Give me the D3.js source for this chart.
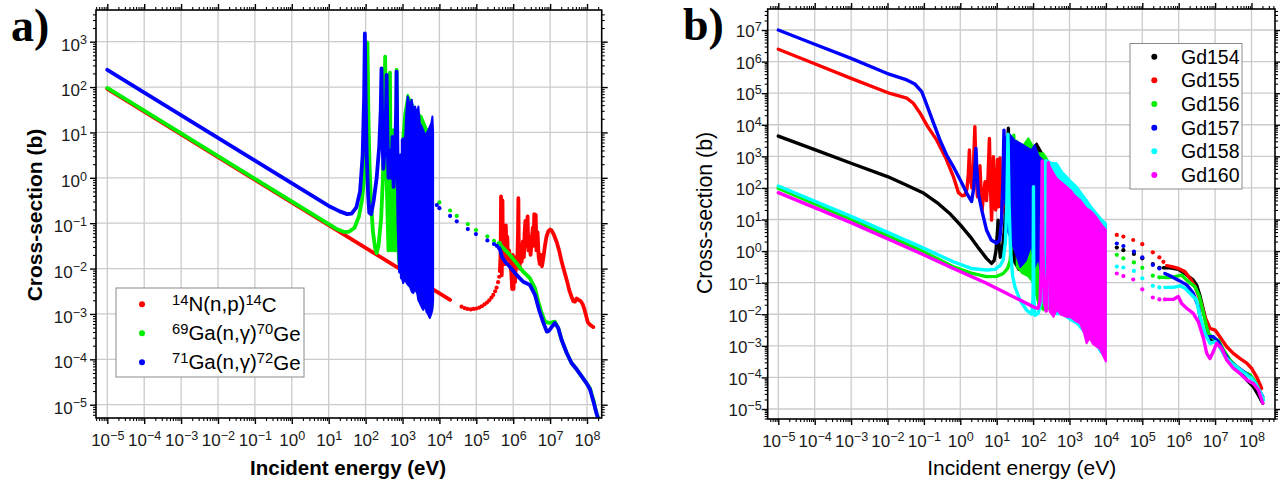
<!DOCTYPE html>
<html>
<head>
<meta charset="utf-8">
<script src="https://cdn.jsdelivr.net/npm/d3@7"></script>
<style>
  body { margin: 0; background: #fff; }
</style>
</head>
<body>
<svg id="chart" width="1280" height="489"></svg>
<script>
// All points are [log10(E / eV), log10(sigma / b)].
// Bands are [log10 E, log10 sigma top, log10 sigma bottom] for unresolved resonances.

// ---------- panel a ----------
const n14Thermal = [[-5, 1.96], [4.29, -2.69]];
const n14Dots = [[4.60,-2.84],[4.68,-2.87],[4.76,-2.89],[4.85,-2.9],[4.93,-2.89],[5.0,-2.88],[5.08,-2.86],
  [5.15,-2.83],[5.22,-2.79],[5.29,-2.75],[5.35,-2.7],[5.41,-2.64],[5.46,-2.58],[5.51,-2.5],[5.55,-2.42],
  [5.59,-2.3],[5.62,-2.18],[5.64,-2.05]];
const n14Fast = [[5.64,-2.05],[5.66,-1.6],[5.67,-0.41],[5.68,-1.0],[5.69,-2.15],[5.71,-0.5],[5.72,-1.9],
  [5.75,-1.6],[5.78,-1.9],[5.8,-1.05],[5.82,-1.7],[5.84,-1.3],[5.86,-1.8],[5.89,-1.6],[5.92,-1.9],[5.95,-2.1],
  [5.97,-2.45],[5.99,-1.7],[6.01,-2.45],[6.03,-1.8],[6.05,-2.3],[6.08,-1.75],[6.11,-1.9],[6.13,-1.2],
  [6.14,-0.45],[6.15,-1.4],[6.17,-2.0],[6.2,-1.6],[6.23,-1.85],[6.26,-1.4],[6.29,-1.75],[6.31,-1.2],
  [6.33,-0.95],[6.35,-1.5],[6.37,-1.1],[6.39,-0.85],[6.41,-1.6],[6.44,-1.3],[6.47,-1.7],[6.5,-1.4],
  [6.53,-1.1],[6.55,-1.5],[6.57,-0.8],[6.59,-1.3],[6.61,-0.82],[6.63,-1.6],[6.66,-1.2],[6.69,-1.75],
  [6.72,-1.9],[6.75,-1.7],[6.78,-1.95],[6.82,-1.75],[6.86,-1.5],[6.9,-1.3],[6.95,-1.18],[7.0,-1.14],
  [7.04,-1.16],[7.1,-1.25],[7.18,-1.42],[7.25,-1.62],[7.31,-1.84],[7.38,-2.05],[7.45,-2.25],[7.52,-2.48],
  [7.58,-2.62],[7.63,-2.72],[7.67,-2.73],[7.72,-2.66],[7.77,-2.69],[7.83,-2.72],[7.88,-2.78],[7.93,-2.9],
  [7.97,-3.02],[8.02,-3.18],[8.07,-3.23],[8.12,-3.26],[8.17,-3.29]];

const ga69Low = [[-5,1.98],[1.2,-1.12],[1.4,-1.19],[1.55,-1.19],[1.7,-1.1],[1.82,-0.85],[1.9,-0.5],
  [1.96,0.0],[2.0,0.6],[2.03,1.6],[2.05,2.98],[2.06,2.4],[2.08,1.2],[2.11,0.2],[2.15,-0.6],[2.2,-1.2],
  [2.26,-1.55],[2.3,-1.66],[2.35,-1.5],[2.42,-0.9],[2.47,0.0],[2.5,1.2],[2.53,2.67],[2.55,1.3],[2.57,0.0],
  [2.6,-1.0],[2.62,-1.6],[2.64,-0.3],[2.66,2.32],[2.68,-0.5],[2.71,-1.6],[2.73,0.3],[2.75,1.05],[2.77,-0.8],
  [2.8,-1.6],[2.83,0.5],[2.84,2.38],[2.86,0.0],[2.9,-1.8],[2.95,-2.03],[2.98,-1.0],[3.0,-2.05]];
const ga69Band = [[3.0,0.9,-2.1],[3.05,1.4,-2.2],[3.14,1.83,-2.25],[3.23,1.68,-2.35],[3.35,1.5,-2.45],
  [3.45,1.4,-2.6],[3.52,1.35,-2.7],[3.65,1.09,-2.85],[3.75,1.0,-2.95],[3.82,0.9,-2.85]];
const ga69Dots = [[4.0,-0.54],[4.29,-0.72],[4.47,-0.84],[4.77,-1.02],[4.99,-1.15],[5.3,-1.29],
  [5.48,-1.39],[5.64,-1.44]];
const ga69Fast = [[5.6,-1.44],[5.73,-1.55],[5.91,-1.7],[6.09,-1.88],[6.27,-2.07],[6.45,-2.21],[6.59,-2.43],
  [6.68,-2.73],[6.77,-2.98],[6.86,-3.17],[6.98,-3.2],[7.13,-3.17],[7.22,-3.31],[7.31,-3.57],[7.45,-3.86],
  [7.58,-4.08],[7.72,-4.22],[7.86,-4.38],[7.99,-4.53],[8.08,-4.64],[8.17,-4.89],[8.26,-5.19],[8.33,-5.35]];

const ga71Low = [[-5,2.38],[1.0,-0.62],[1.3,-0.74],[1.5,-0.8],[1.62,-0.79],[1.75,-0.65],[1.85,-0.3],
  [1.92,0.5],[1.96,1.8],[1.98,3.18],[2.0,1.8],[2.03,0.5],[2.07,-0.4],[2.1,-0.77],[2.15,-0.8],[2.22,-0.5],
  [2.3,0.0],[2.37,0.7],[2.41,1.5],[2.43,2.41],[2.45,1.2],[2.48,0.2],[2.52,0.7],[2.55,1.4],[2.57,2.27],
  [2.59,1.0],[2.62,0.0],[2.66,0.6],[2.7,0.0],[2.73,0.9],[2.76,-0.2],[2.8,0.5],[2.83,1.6],[2.84,2.34],
  [2.86,0.8],[2.89,-1.0],[2.93,-2.07],[2.96,0.5],[2.98,-2.2]];
const ga71Band = [[2.98,0.84,-2.2],[3.02,0.87,-2.32],[3.07,0.87,-2.2],[3.1,1.4,-2.3],[3.14,1.79,-2.35],
  [3.2,1.6,-2.4],[3.25,1.72,-2.51],[3.29,1.5,-2.54],[3.34,1.57,-2.45],[3.4,1.4,-2.55],[3.43,1.57,-2.7],
  [3.47,1.2,-2.76],[3.52,1.13,-2.85],[3.56,1.05,-2.91],[3.6,0.95,-2.8],[3.65,0.98,-2.95],[3.7,1.05,-3.02],
  [3.74,1.13,-3.09],[3.78,1.2,-3.0],[3.81,1.35,-2.9],[3.83,1.0,-2.7]];
const ga71Dots = [[3.93,-0.6],[4.0,-0.67],[4.29,-0.84],[4.47,-0.96],[4.77,-1.13],[4.99,-1.24],[5.3,-1.38],
  [5.48,-1.46],[5.56,-1.5],[5.62,-1.55]];
const ga71Fast = [[5.65,-1.6],[5.7,-1.75],[5.78,-1.85],[5.91,-1.96],[6.09,-2.14],[6.27,-2.29],[6.45,-2.36],
  [6.59,-2.58],[6.7,-2.91],[6.82,-3.2],[6.91,-3.39],[6.97,-3.37],[7.04,-3.29],[7.13,-3.2],[7.22,-3.31],
  [7.31,-3.57],[7.45,-3.86],[7.58,-4.08],[7.72,-4.22],[7.86,-4.38],[7.99,-4.53],[8.08,-4.66],[8.17,-4.92],
  [8.26,-5.2],[8.36,-5.45]];

const legendA = [["14", "N(n,p)", "14", "C"], ["69", "Ga(n,\u03b3)", "70", "Ge"], ["71", "Ga(n,\u03b3)", "72", "Ge"]];
const colorsA = ["#ff0000", "#00ee00", "#0000ff"];

// ---------- panel b ----------
const gd154Low = [[-5,3.64],[-4,3.21],[-3,2.78],[-2,2.36],[-1.5,2.1],[-1,1.83],[-0.6,1.5],[-0.3,1.2],
  [0,0.83],[0.27,0.46],[0.5,0.1],[0.72,-0.23],[0.86,-0.39],[0.93,-0.3],[0.98,0.0],[1.02,0.6],[1.04,0.98],
  [1.06,0.3],[1.1,-0.2],[1.15,0.0],[1.22,0.8],[1.28,2.2],[1.32,3.89],[1.35,2.0],[1.4,0.4],[1.45,0.0]];
const gd154Band = [[1.45,3.2,-0.3],[1.6,3.4,-0.6],[1.75,3.3,-0.5],[1.9,3.36,-0.7],[2.0,3.3,-0.6],
  [2.1,3.41,-0.8],[2.2,3.2,-1.0],[2.35,2.9,-1.2],[2.5,2.7,-1.35],[2.7,2.5,-1.6],[2.9,2.3,-1.9],
  [3.1,2.1,-2.2],[3.3,1.8,-2.3],[3.5,1.5,-2.5],[3.7,1.2,-2.7],[3.85,1.0,-2.8],[4.0,0.8,-2.9]];
const gd154Dots = [[4.3,0.11],[4.48,0.03],[4.77,-0.09],[5.0,-0.23],[5.29,-0.41],[5.47,-0.53]];
const gd154Fast = [[5.58,-0.53],[5.76,-0.53],[5.99,-0.58],[6.17,-0.71],[6.4,-0.92],[6.49,-1.07],[6.59,-1.44],
  [6.7,-1.97],[6.81,-2.6],[6.91,-2.87],[7.04,-2.82],[7.18,-3.13],[7.32,-3.4],[7.5,-3.61],[7.68,-3.82],
  [7.87,-4.08],[8.05,-4.29],[8.19,-4.56],[8.31,-4.82]];

const gd155Low = [[-5,6.39],[-4,5.93],[-3,5.47],[-1.93,4.99],[-1.47,4.84],[-1.29,4.68],[-1.1,4.36],
  [-0.9,3.95],[-0.65,3.52],[-0.4,2.95],[-0.19,2.36],[-0.05,1.85],[0.05,1.75],[0.12,1.77],[0.18,1.95],
  [0.22,2.4],[0.25,3.2],[0.28,2.3],[0.32,2.0],[0.36,2.6],[0.4,3.94],[0.43,2.6],[0.47,1.72],[0.51,2.0],
  [0.54,2.7],[0.57,1.9],[0.6,1.3],[0.64,1.8],[0.68,2.2],[0.72,1.6],[0.76,2.3],[0.8,3.57],[0.83,2.0],
  [0.86,0.98],[0.89,2.0],[0.91,2.99],[0.94,1.5],[0.97,1.3],[1.0,2.2],[1.02,2.9],[1.05,1.4],[1.07,1.6],
  [1.09,2.95],[1.12,1.5],[1.16,1.2],[1.2,2.2],[1.23,2.88],[1.27,1.4],[1.3,1.0]];
const gd155Band = [[1.3,2.9,0.9],[1.5,3.2,0.5],[1.7,3.2,0.2],[2.0,3.0,-0.3],[2.3,2.6,-0.8],[2.6,2.3,-1.2],
  [3.0,1.9,-1.6],[3.4,1.4,-2.0],[3.7,1.0,-2.3],[4.0,0.7,-2.5]];
const gd155Dots = [[4.3,0.51],[4.48,0.46],[4.75,0.35],[5.0,0.22],[5.29,-0.04],[5.47,-0.2],[5.58,-0.34]];
const gd155Fast = [[5.67,-0.46],[5.81,-0.49],[5.99,-0.55],[6.17,-0.65],[6.31,-0.86],[6.45,-1.13],
  [6.59,-1.55],[6.72,-2.08],[6.86,-2.45],[7.0,-2.5],[7.13,-2.71],[7.32,-3.03],[7.5,-3.24],[7.68,-3.4],
  [7.87,-3.55],[8.0,-3.71],[8.14,-3.98],[8.28,-4.35]];

const gd156Low = [[-5,1.99],[-3,1.0],[-1.1,0.03],[-0.19,-0.5],[0.3,-0.7],[0.72,-0.81],[1.0,-0.8],
  [1.18,-0.71],[1.3,-0.55],[1.37,-0.3],[1.42,0.5],[1.45,1.8],[1.47,3.67],[1.49,2.0],[1.52,0.0]];
const gd156Band = [[1.55,3.5,-0.5],[1.7,3.3,-0.7],[1.87,3.57,-0.8],[2.0,3.3,-1.0],[2.15,3.1,-1.7],
  [2.28,3.1,-1.87],[2.5,2.7,-1.8],[2.7,2.4,-1.9],[3.0,2.1,-2.1],[3.2,1.8,-2.2],[3.5,1.4,-2.4],
  [3.8,1.0,-2.7],[4.0,0.8,-2.8]];
const gd156Dots = [[4.3,-0.12],[4.48,-0.23],[4.77,-0.36],[5.0,-0.53],[5.29,-0.78],[5.47,-0.83]];
const gd156Fast = [[5.53,-0.83],[5.72,-0.84],[5.9,-0.81],[6.08,-0.76],[6.22,-0.92],[6.45,-1.13],[6.57,-1.44],
  [6.68,-1.97],[6.81,-2.6],[6.95,-2.76],[7.09,-2.82],[7.23,-3.13],[7.41,-3.45],[7.59,-3.66],[7.78,-3.82],
  [7.96,-3.92],[8.1,-4.14],[8.23,-4.45],[8.31,-4.66]];

const gd157Low = [[-5,7.0],[-4,6.55],[-3,6.1],[-2.02,5.63],[-1.47,5.42],[-1.25,5.29],[-1.06,5.05],
  [-0.97,4.78],[-0.75,4.1],[-0.56,3.52],[-0.38,3.05],[-0.19,2.67],[0.0,2.25],[0.18,1.83],[0.31,1.57],
  [0.37,2.0],[0.41,2.8],[0.43,3.25],[0.45,2.7],[0.5,1.8],[0.59,1.3],[0.72,0.67],[0.85,0.35],[1.0,0.25],
  [1.08,0.35],[1.13,0.9],[1.17,2.2],[1.2,3.83],[1.22,2.5],[1.25,1.5]];
const gd157Band = [[1.25,3.6,0.8],[1.35,3.7,0.5],[1.5,3.5,0.0],[1.65,3.41,-0.5],[1.8,3.3,-0.3],
  [1.95,3.2,0.2],[2.05,3.35,-0.5],[2.15,3.0,-0.2],[2.25,2.9,-1.0],[2.4,2.7,-1.2],[2.6,2.5,-1.5],
  [2.9,2.2,-1.8],[3.2,1.9,-2.1],[3.5,1.5,-2.4],[3.8,1.1,-2.7],[4.0,0.85,-2.8]];
const gd157Dots = [[4.3,0.24],[4.48,0.16],[4.77,-0.02],[5.0,-0.2],[5.29,-0.44],[5.47,-0.55]];
const gd157Fast = [[5.62,-0.71],[5.81,-0.81],[5.99,-0.92],[6.22,-1.07],[6.4,-1.34],[6.54,-1.76],[6.63,-2.39],
  [6.77,-2.71],[6.95,-2.71],[7.09,-2.87],[7.23,-3.19],[7.41,-3.5],[7.59,-3.66],[7.78,-3.82],[7.96,-3.98],
  [8.1,-4.19],[8.23,-4.45],[8.31,-4.61]];

const gd158Low = [[-5,2.06],[-3,1.1],[-1.1,0.14],[-0.19,-0.34],[0.3,-0.55],[0.72,-0.6],[0.95,-0.58],
  [1.1,-0.45],[1.18,-0.28],[1.24,0.3],[1.28,1.5],[1.31,3.7],[1.34,1.5],[1.38,0.0],[1.44,-0.8],[1.5,-1.13],
  [1.64,-1.55],[1.82,-1.87],[1.96,-2.0],[2.0,-1.5],[2.01,2.04],[2.02,-1.5],[2.05,-2.03],[2.14,-1.97],
  [2.22,-1.6],[2.27,-0.5],[2.31,1.5],[2.33,2.85],[2.35,1.0]];
const gd158Band = [[2.36,2.88,-1.7],[2.5,2.8,-1.8],[2.65,2.78,-2.0],[2.8,2.5,-2.0],[2.92,2.36,-2.1],
  [3.05,2.2,-2.2],[3.2,2.04,-2.3],[3.35,1.8,-2.5],[3.47,1.62,-2.7],[3.6,1.4,-2.8],[3.75,1.19,-3.0],
  [3.85,1.05,-3.2],[3.93,0.95,-3.3],[4.0,0.88,-3.2]];
const gd158Dots = [[4.3,-0.49],[4.48,-0.52],[4.77,-0.63],[5.0,-0.86],[5.29,-1.1],[5.47,-1.15]];
const gd158Fast = [[5.62,-1.15],[5.85,-1.15],[6.04,-1.1],[6.17,-1.18],[6.36,-1.39],[6.49,-1.55],[6.59,-2.08],
  [6.72,-2.6],[6.86,-2.92],[7.0,-2.87],[7.13,-3.03],[7.27,-3.34],[7.45,-3.55],[7.64,-3.71],[7.82,-3.87],
  [8.0,-4.03],[8.14,-4.24],[8.28,-4.56],[8.33,-4.72]];

const gd160Low = [[-5,1.85],[-3,0.9],[-1.1,-0.07],[-0.19,-0.55],[0.72,-1.02],[1.64,-1.55],[2.05,-1.79],
  [2.14,-1.81],[2.19,-1.6],[2.22,-0.5],[2.25,2.85],[2.27,0.0],[2.31,-1.6],[2.36,-1.9],[2.4,-0.5],
  [2.42,2.8],[2.44,0.0]];
const gd160Band = [[2.45,2.7,-1.9],[2.56,2.46,-2.08],[2.65,2.3,-1.85],[2.75,2.2,-2.0],[2.92,2.04,-2.08],
  [3.05,1.9,-2.1],[3.15,1.75,-2.2],[3.29,1.62,-2.29],[3.4,1.45,-2.6],[3.47,1.35,-2.92],[3.55,1.3,-2.75],
  [3.65,1.19,-2.95],[3.75,1.05,-3.03],[3.84,0.9,-3.1],[3.92,0.78,-3.3],[4.0,0.67,-3.5]];
const gd160Dots = [[4.3,-0.71],[4.48,-0.79],[4.75,-0.9],[5.0,-1.21],[5.29,-1.47],[5.47,-1.53],[5.62,-1.53]];
const gd160Fast = [[5.67,-1.53],[5.85,-1.53],[5.99,-1.44],[6.08,-1.66],[6.22,-1.81],[6.4,-1.97],[6.54,-2.24],
  [6.68,-2.76],[6.77,-3.24],[6.86,-3.4],[6.95,-3.19],[7.04,-2.92],[7.18,-3.08],[7.32,-3.45],[7.5,-3.71],
  [7.68,-3.87],[7.87,-4.08],[8.05,-4.19],[8.19,-4.4],[8.31,-4.82]];

const gdNames = ["Gd154", "Gd155", "Gd156", "Gd157", "Gd158", "Gd160"];
const colorsB = ["#000000", "#ff0000", "#00ee00", "#0000ff", "#00ffff", "#ff00ff"];

// tick exponents
const xExps = d3.range(-5, 9);
const yExpsA = d3.range(-5, 4);
const yExpsB = d3.range(-5, 8);

// ---------- drawing ----------
const SANS = "'Liberation Sans', Arial, sans-serif";
const SERIF = "'Liberation Serif', 'Times New Roman', serif";
const svg = d3.select("#chart").style("font-family", SANS);
const p10 = v => Math.pow(10, v);

function minorTicks(lo, hi) {
  const out = [];
  for (let e = Math.floor(lo); e <= Math.ceil(hi); e++) {
    for (let k = 2; k <= 9; k++) {
      const v = k * p10(e);
      if (Math.log10(v) >= lo && Math.log10(v) <= hi) out.push(v);
    }
  }
  return out;
}

function supText(sel) {
  sel.each(function(d) {
    const e = Math.round(Math.log10(d));
    const t = d3.select(this).text("10");
    t.append("tspan").attr("dy", "-0.5em").attr("font-size", "0.74em")
      .text(e < 0 ? "\u2212" + (-e) : String(e));
  });
}

function drawPanel(o) {
  const g = svg.append("g");
  const x = d3.scaleLog().domain([p10(o.xDom[0]), p10(o.xDom[1])]).range([o.left, o.right]);
  const y = d3.scaleLog().domain([p10(o.yDom[0]), p10(o.yDom[1])]).range([o.bottom, o.top]);

  // grid
  g.append("g").selectAll("line").data(o.xExps).join("line")
    .attr("x1", d => x(p10(d))).attr("x2", d => x(p10(d)))
    .attr("y1", o.top).attr("y2", o.bottom)
    .attr("stroke", "#cbcbcb").attr("stroke-width", 1.3);
  g.append("g").selectAll("line").data(o.yExps).join("line")
    .attr("y1", d => y(p10(d))).attr("y2", d => y(p10(d)))
    .attr("x1", o.left).attr("x2", o.right)
    .attr("stroke", "#cbcbcb").attr("stroke-width", 1.3);

  // data
  svg.append("clipPath").attr("id", o.id + "clip").append("rect")
    .attr("x", o.left).attr("y", o.top).attr("width", o.right - o.left).attr("height", o.bottom - o.top);
  const plot = g.append("g").attr("clip-path", `url(#${o.id}clip)`);
  const line = d3.line().x(d => x(p10(d[0]))).y(d => y(p10(d[1])));
  const area = d3.area().x(d => x(p10(d[0]))).y0(d => y(p10(d[2]))).y1(d => y(p10(d[1])));

  o.series.forEach(s => {
    (s.bands || []).forEach(b => {
      plot.append("path").attr("d", area(b))
        .attr("fill", s.color).attr("stroke", s.color).attr("stroke-width", 2)
        .attr("stroke-linejoin", "round");
    });
    s.lines.forEach(l => {
      plot.append("path").attr("d", line(l))
        .attr("fill", "none").attr("stroke", s.color).attr("stroke-width", o.lw)
        .attr("stroke-linejoin", "round").attr("stroke-linecap", "round");
    });
    plot.append("g").selectAll("circle").data(s.dots).join("circle")
      .attr("cx", d => x(p10(d[0]))).attr("cy", d => y(p10(d[1])))
      .attr("r", 2.1).attr("fill", s.color);
  });

  // axes
  const majX = o.xExps.map(p10), majY = o.yExps.map(p10);
  const minX = minorTicks(o.xDom[0], o.xDom[1]), minY = minorTicks(o.yDom[0], o.yDom[1]);
  const axes = [
    [d3.axisBottom, x, majX, minX, `translate(0,${o.bottom})`, true],
    [d3.axisTop, x, majX, minX, `translate(0,${o.top})`, false],
    [d3.axisLeft, y, majY, minY, `translate(${o.left},0)`, true],
    [d3.axisRight, y, majY, minY, `translate(${o.right},0)`, false]
  ];
  axes.forEach(([fn, sc, maj, min, tr, lab]) => {
    const gm = g.append("g").attr("transform", tr)
      .call(fn(sc).tickValues(min).tickSize(3).tickFormat(""));
    gm.select(".domain").remove();
    gm.selectAll("line").attr("stroke-width", 1.1);
    const gM = g.append("g").attr("transform", tr)
      .call(fn(sc).tickValues(maj).tickSize(6).tickPadding(lab ? o.pad[fn === d3.axisBottom ? 0 : 1] : 3)
        .tickFormat(lab ? (d => "10") : ""));
    gM.select(".domain").remove();
    gM.selectAll("line").attr("stroke-width", 1.4);
    gM.attr("font-family", SANS).attr("font-size", 17);
    if (lab) {
      const txt = gM.selectAll("text").attr("fill", "#1a1a1a");
      if (fn === d3.axisLeft) txt.attr("dy", o.yDy);
      supText(txt);
    }
  });

  g.append("rect").attr("x", o.left).attr("y", o.top)
    .attr("width", o.right - o.left).attr("height", o.bottom - o.top)
    .attr("fill", "none").attr("stroke", "#000").attr("stroke-width", 1.6);

  return g;
}

// ----- panel a -----
const gA = drawPanel({
  id: "a", left: 96, right: 601.7, top: 10, bottom: 418,
  xDom: [-5.306, 8.398], yDom: [-5.293, 3.698],
  xExps: xExps, yExps: yExpsA, lw: 3.8, pad: [10, 3], yDy: "0.5em",
  series: [
    { color: colorsA[0], lines: [n14Thermal, n14Fast], dots: n14Dots },
    { color: colorsA[1], lines: [ga69Low, ga69Fast], bands: [ga69Band], dots: ga69Dots },
    { color: colorsA[2], lines: [ga71Low, ga71Fast], bands: [ga71Band], dots: ga71Dots }
  ]
});

gA.append("text").attr("x", 11).attr("y", 41)
  .style("font-family", SERIF)
  .attr("font-weight", "bold").attr("font-size", 46).text("a)");
gA.append("text").attr("transform", "translate(41.5,215) rotate(-90)")
  .attr("text-anchor", "middle").attr("font-weight", "bold").attr("font-size", 21)
  .text("Cross-section (b)");
gA.append("text").attr("x", 348).attr("y", 475)
  .attr("text-anchor", "middle").attr("font-weight", "bold").attr("font-size", 20.5)
  .text("Incident energy (eV)");

const legA = gA.append("g");
legA.append("rect").attr("x", 116).attr("y", 288).attr("width", 188).attr("height", 89)
  .attr("fill", "#fff").attr("stroke", "#8a8a8a").attr("stroke-width", 1);
legendA.forEach((parts, i) => {
  const cy = 304.3 + i * 29;
  legA.append("circle").attr("cx", 142).attr("cy", cy).attr("r", 3).attr("fill", colorsA[i]);
  const t = legA.append("text").attr("x", 172).attr("y", cy + 7).attr("font-size", 20.5);
  t.append("tspan").attr("font-size", "0.72em").attr("dy", "-0.45em").text(parts[0]);
  t.append("tspan").attr("dy", "0.33em").text(parts[1]);
  t.append("tspan").attr("font-size", "0.72em").attr("dy", "-0.45em").text(parts[2]);
  t.append("tspan").attr("dy", "0.33em").text(parts[3]);
});

// ----- panel b -----
const gdLow = [gd154Low, gd155Low, gd156Low, gd157Low, gd158Low, gd160Low];
const gdBand = [gd154Band, gd155Band, gd156Band, gd157Band, gd158Band, gd160Band];
const gdDots = [gd154Dots, gd155Dots, gd156Dots, gd157Dots, gd158Dots, gd160Dots];
const gdFast = [gd154Fast, gd155Fast, gd156Fast, gd157Fast, gd158Fast, gd160Fast];

const gB = drawPanel({
  id: "b", left: 767.7, right: 1275, top: 9, bottom: 419,
  xDom: [-5.291, 8.646], yDom: [-5.317, 7.665],
  xExps: xExps, yExps: yExpsB, lw: 3.4, pad: [10, 0], yDy: "0.4em",
  series: gdNames.map((n, i) => ({
    color: colorsB[i], lines: [gdLow[i], gdFast[i]], bands: [gdBand[i]], dots: gdDots[i]
  }))
});

gB.append("text").attr("x", 683).attr("y", 40)
  .style("font-family", SERIF)
  .attr("font-weight", "bold").attr("font-size", 46).text("b)");
gB.append("text").attr("transform", "translate(712,213) rotate(-90)")
  .attr("text-anchor", "middle").attr("font-size", 21.3)
  .text("Cross-section (b)");
gB.append("text").attr("x", 1021.7).attr("y", 475)
  .attr("text-anchor", "middle").attr("font-size", 21)
  .text("Incident energy (eV)");

const legB = gB.append("g");
legB.append("rect").attr("x", 1130).attr("y", 43.5).attr("width", 112).attr("height", 145.5)
  .attr("fill", "#fff").attr("stroke", "#8a8a8a").attr("stroke-width", 1);
gdNames.forEach((n, i) => {
  const cy = 56.7 + i * 23.66;
  legB.append("circle").attr("cx", 1154.3).attr("cy", cy).attr("r", 3).attr("fill", colorsB[i]);
  legB.append("text").attr("x", 1181).attr("y", cy + 7).attr("font-size", 19.5).text(n);
});
</script>
</body>
</html>
